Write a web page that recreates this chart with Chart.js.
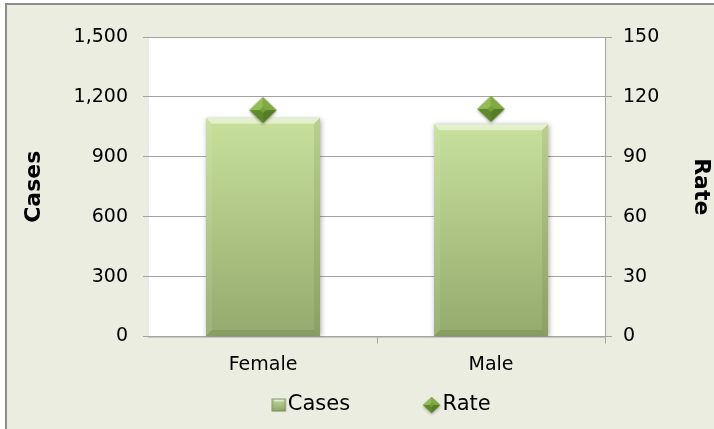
<!DOCTYPE html>
<html>
<head>
<meta charset="utf-8">
<script src="https://cdn.jsdelivr.net/npm/chart.js@4.4.1/dist/chart.umd.min.js"></script>
<style>
  html, body { margin: 0; padding: 0; background: #fff; overflow: hidden; }
  #frame { position: absolute; left: 5px; top: 3px; width: 760px; height: 480px;
           background: #eaeddf; border-left: 2px solid #8c8c8c; border-top: 2px solid #8c8c8c; }
  #wrap { position: absolute; left: 0; top: 0; width: 714px; height: 429px; }
</style>
</head>
<body>
<div id="frame"></div>
<div id="wrap"><canvas id="chart" width="714" height="429"></canvas></div>
<script>
const categories = ['Female', 'Male'];
const seriesNames = ['Cases', 'Rate'];
const cases = [1095, 1063];
const rates = [113.4, 114.0];
const caseTicks = [0, 300, 600, 900, 1200, 1500];
const rateTicks = [0, 30, 60, 90, 120, 150];

const FONT = '"DejaVu Sans", Verdana, sans-serif';
const GRID = '#a3a3a3';
const PSW = 62; // legend box width, used to space the two legend items

function poly(g, pts, fill) {
  g.beginPath();
  g.moveTo(pts[0][0], pts[0][1]);
  for (let i = 1; i < pts.length; i++) g.lineTo(pts[i][0], pts[i][1]);
  g.closePath();
  g.fillStyle = fill;
  g.fill();
}

// diamond marker, optionally drawn off-centre inside a wider canvas
function diamondIcon(w, h, shift, canvasW) {
  const c = document.createElement('canvas');
  c.width = canvasW || w + 6;
  c.height = h + 6;
  const g = c.getContext('2d');
  const cx = c.width / 2 + (shift || 0), cy = c.height / 2;
  const L = cx - w / 2, R = cx + w / 2, T = cy - h / 2, B = cy + h / 2;
  g.save();
  g.shadowColor = 'rgba(0,0,0,0.35)';
  g.shadowBlur = 3;
  g.shadowOffsetY = 1.5;
  poly(g, [[L, cy], [cx, T], [R, cy], [cx, B]], '#6a9434');
  g.restore();
  poly(g, [[L, cy], [cx, T], [cx, cy - h * 0.12], [cx - w * 0.12, cy]], '#93bb58');
  poly(g, [[cx, T], [R, cy], [cx + w * 0.12, cy], [cx, cy - h * 0.12]], '#80a944');
  poly(g, [[L, cy], [cx - w * 0.12, cy], [cx, cy + h * 0.12], [cx, B]], '#5f8a2c');
  poly(g, [[R, cy], [cx, B], [cx, cy + h * 0.12], [cx + w * 0.12, cy]], '#547d25');
  poly(g, [[cx - w * 0.12, cy], [cx, cy - h * 0.12], [cx + w * 0.12, cy], [cx, cy + h * 0.12]], '#76a03c');
  return c;
}

// small bevelled square for the Cases legend entry
function squareIcon(w, h, shift, canvasW) {
  const c = document.createElement('canvas');
  c.width = canvasW;
  c.height = h + 4;
  const g = c.getContext('2d');
  const cx = c.width / 2 + shift, cy = c.height / 2;
  const l = cx - w / 2, t = cy - h / 2;
  const grd = g.createLinearGradient(0, t, 0, t + h);
  grd.addColorStop(0, '#c2d99a');
  grd.addColorStop(1, '#8ea56a');
  g.fillStyle = grd;
  g.fillRect(l, t, w, h);
  poly(g, [[l, t], [l + w, t], [l + w - 3, t + 3], [l + 3, t + 3]], 'rgba(255,255,255,0.55)');
  g.strokeStyle = 'rgba(110,125,90,0.8)';
  g.lineWidth = 1;
  g.strokeRect(l + 0.5, t + 0.5, w - 1, h - 1);
  return c;
}

const markerImg = diamondIcon(27, 26);
const legendIcons = [
  squareIcon(14, 13, PSW / 2 + 1.5, 2 * (PSW / 2 + 10)),
  diamondIcon(17, 16, PSW / 2 - 0.5, 2 * (PSW / 2 + 11))
];

const plotBg = {
  id: 'plotBg',
  beforeDraw(chart) {
    const a = chart.chartArea;
    chart.ctx.save();
    chart.ctx.fillStyle = '#ffffff';
    chart.ctx.fillRect(a.left, a.top, a.right - a.left, a.bottom - a.top);
    chart.ctx.restore();
  }
};

const barLook = {
  id: 'barLook',
  beforeDatasetDraw(chart, args) {
    if (args.index !== 0) return;
    const g = chart.ctx;
    g.save();
    g.shadowColor = 'rgba(0,0,0,0.35)';
    g.shadowBlur = 5;
    g.shadowOffsetX = 1;
    g.shadowOffsetY = 1;
  },
  afterDatasetDraw(chart, args) {
    if (args.index !== 0) return;
    const g = chart.ctx;
    g.restore();
    args.meta.data.forEach(bar => {
      const {x, y, base, width} = bar.getProps(['x', 'y', 'base', 'width'], true);
      const l = x - width / 2, r = x + width / 2, b = 6;
      poly(g, [[l, y], [r, y], [r - b, y + b], [l + b, y + b]], 'rgba(255,255,255,0.5)');
      poly(g, [[l, y], [l + b, y + b], [l + b, base - b], [l, base]], 'rgba(255,255,255,0.08)');
      poly(g, [[r, y], [r, base], [r - b, base - b], [r - b, y + b]], 'rgba(70,90,40,0.12)');
      poly(g, [[l, base], [r, base], [r - b, base - b], [l + b, base - b]], 'rgba(70,90,40,0.16)');
    });
  }
};

function barFill(ctx) {
  const chart = ctx.chart;
  if (!chart.chartArea || ctx.raw === undefined) return '#b0c887';
  const top = chart.scales.y.getPixelForValue(ctx.raw);
  const bottom = chart.scales.y.getPixelForValue(0);
  const grd = chart.ctx.createLinearGradient(0, top, 0, bottom);
  grd.addColorStop(0, '#c8e09c');
  grd.addColorStop(1, '#94aa6e');
  return grd;
}

new Chart(document.getElementById('chart'), {
  data: {
    labels: categories,
    datasets: [
      {
        type: 'bar',
        label: seriesNames[0],
        data: cases,
        yAxisID: 'y',
        backgroundColor: barFill,
        borderWidth: 0,
        categoryPercentage: 1,
        barPercentage: 0.5,
        order: 1
      },
      {
        type: 'line',
        label: seriesNames[1],
        data: rates,
        yAxisID: 'y1',
        showLine: false,
        pointStyle: markerImg,
        pointRadius: 13,
        order: 0
      }
    ]
  },
  options: {
    responsive: false,
    animation: false,
    events: [],
    layout: { padding: { top: 37, left: 0, right: 8, bottom: 3.5 } },
    plugins: {
      tooltip: { enabled: false },
      legend: {
        position: 'bottom',
        labels: {
          usePointStyle: true,
          pointStyleWidth: PSW,
          padding: 20,
          color: '#000',
          font: { family: FONT, size: 21 },
          generateLabels: () => seriesNames.map((name, i) => ({
            text: name,
            pointStyle: legendIcons[i],
            datasetIndex: i,
            hidden: false,
            lineWidth: 0,
            fillStyle: 'rgba(0,0,0,0)',
            strokeStyle: 'rgba(0,0,0,0)',
            fontColor: '#000'
          }))
        }
      }
    },
    scales: {
      x: {
        type: 'category',
        offset: true,
        grid: {
          display: true,
          drawOnChartArea: false,
          offset: true,
          tickLength: 7,
          color: c => (c.index === 0 ? 'rgba(0,0,0,0)' : GRID)
        },
        border: { display: true, color: GRID, width: 1.5 },
        ticks: { color: '#000', padding: 10, font: { family: FONT, size: 19 } },
        afterFit: s => { s.height = 38; }
      },
      y: {
        position: 'left',
        min: 0,
        max: 1500,
        afterBuildTicks: s => { s.ticks = caseTicks.map(v => ({ value: v })); },
        ticks: {
          color: '#000',
          padding: 15,
          font: { family: FONT, size: 19 },
          callback: v => v.toLocaleString('en-US')
        },
        grid: { color: GRID, tickLength: 6 },
        border: { display: false },
        title: {
          display: true,
          text: 'Cases',
          color: '#000',
          font: { family: FONT, size: 22, weight: 'bold' },
          padding: { top: 21, bottom: 0 }
        },
        afterFit: s => { s.width = 149; }
      },
      y1: {
        position: 'right',
        min: 0,
        max: 150,
        afterBuildTicks: s => { s.ticks = rateTicks.map(v => ({ value: v })); },
        ticks: { color: '#000', padding: 11, font: { family: FONT, size: 19 } },
        grid: { drawOnChartArea: false, color: GRID, tickLength: 7 },
        border: { display: true, color: GRID },
        title: {
          display: true,
          text: 'Rate',
          color: '#000',
          font: { family: FONT, size: 22, weight: 'bold' },
          padding: { top: -8, bottom: 0 }
        },
        afterFit: s => { s.width = 101; }
      }
    }
  },
  plugins: [plotBg, barLook]
});
</script>
</body>
</html>
